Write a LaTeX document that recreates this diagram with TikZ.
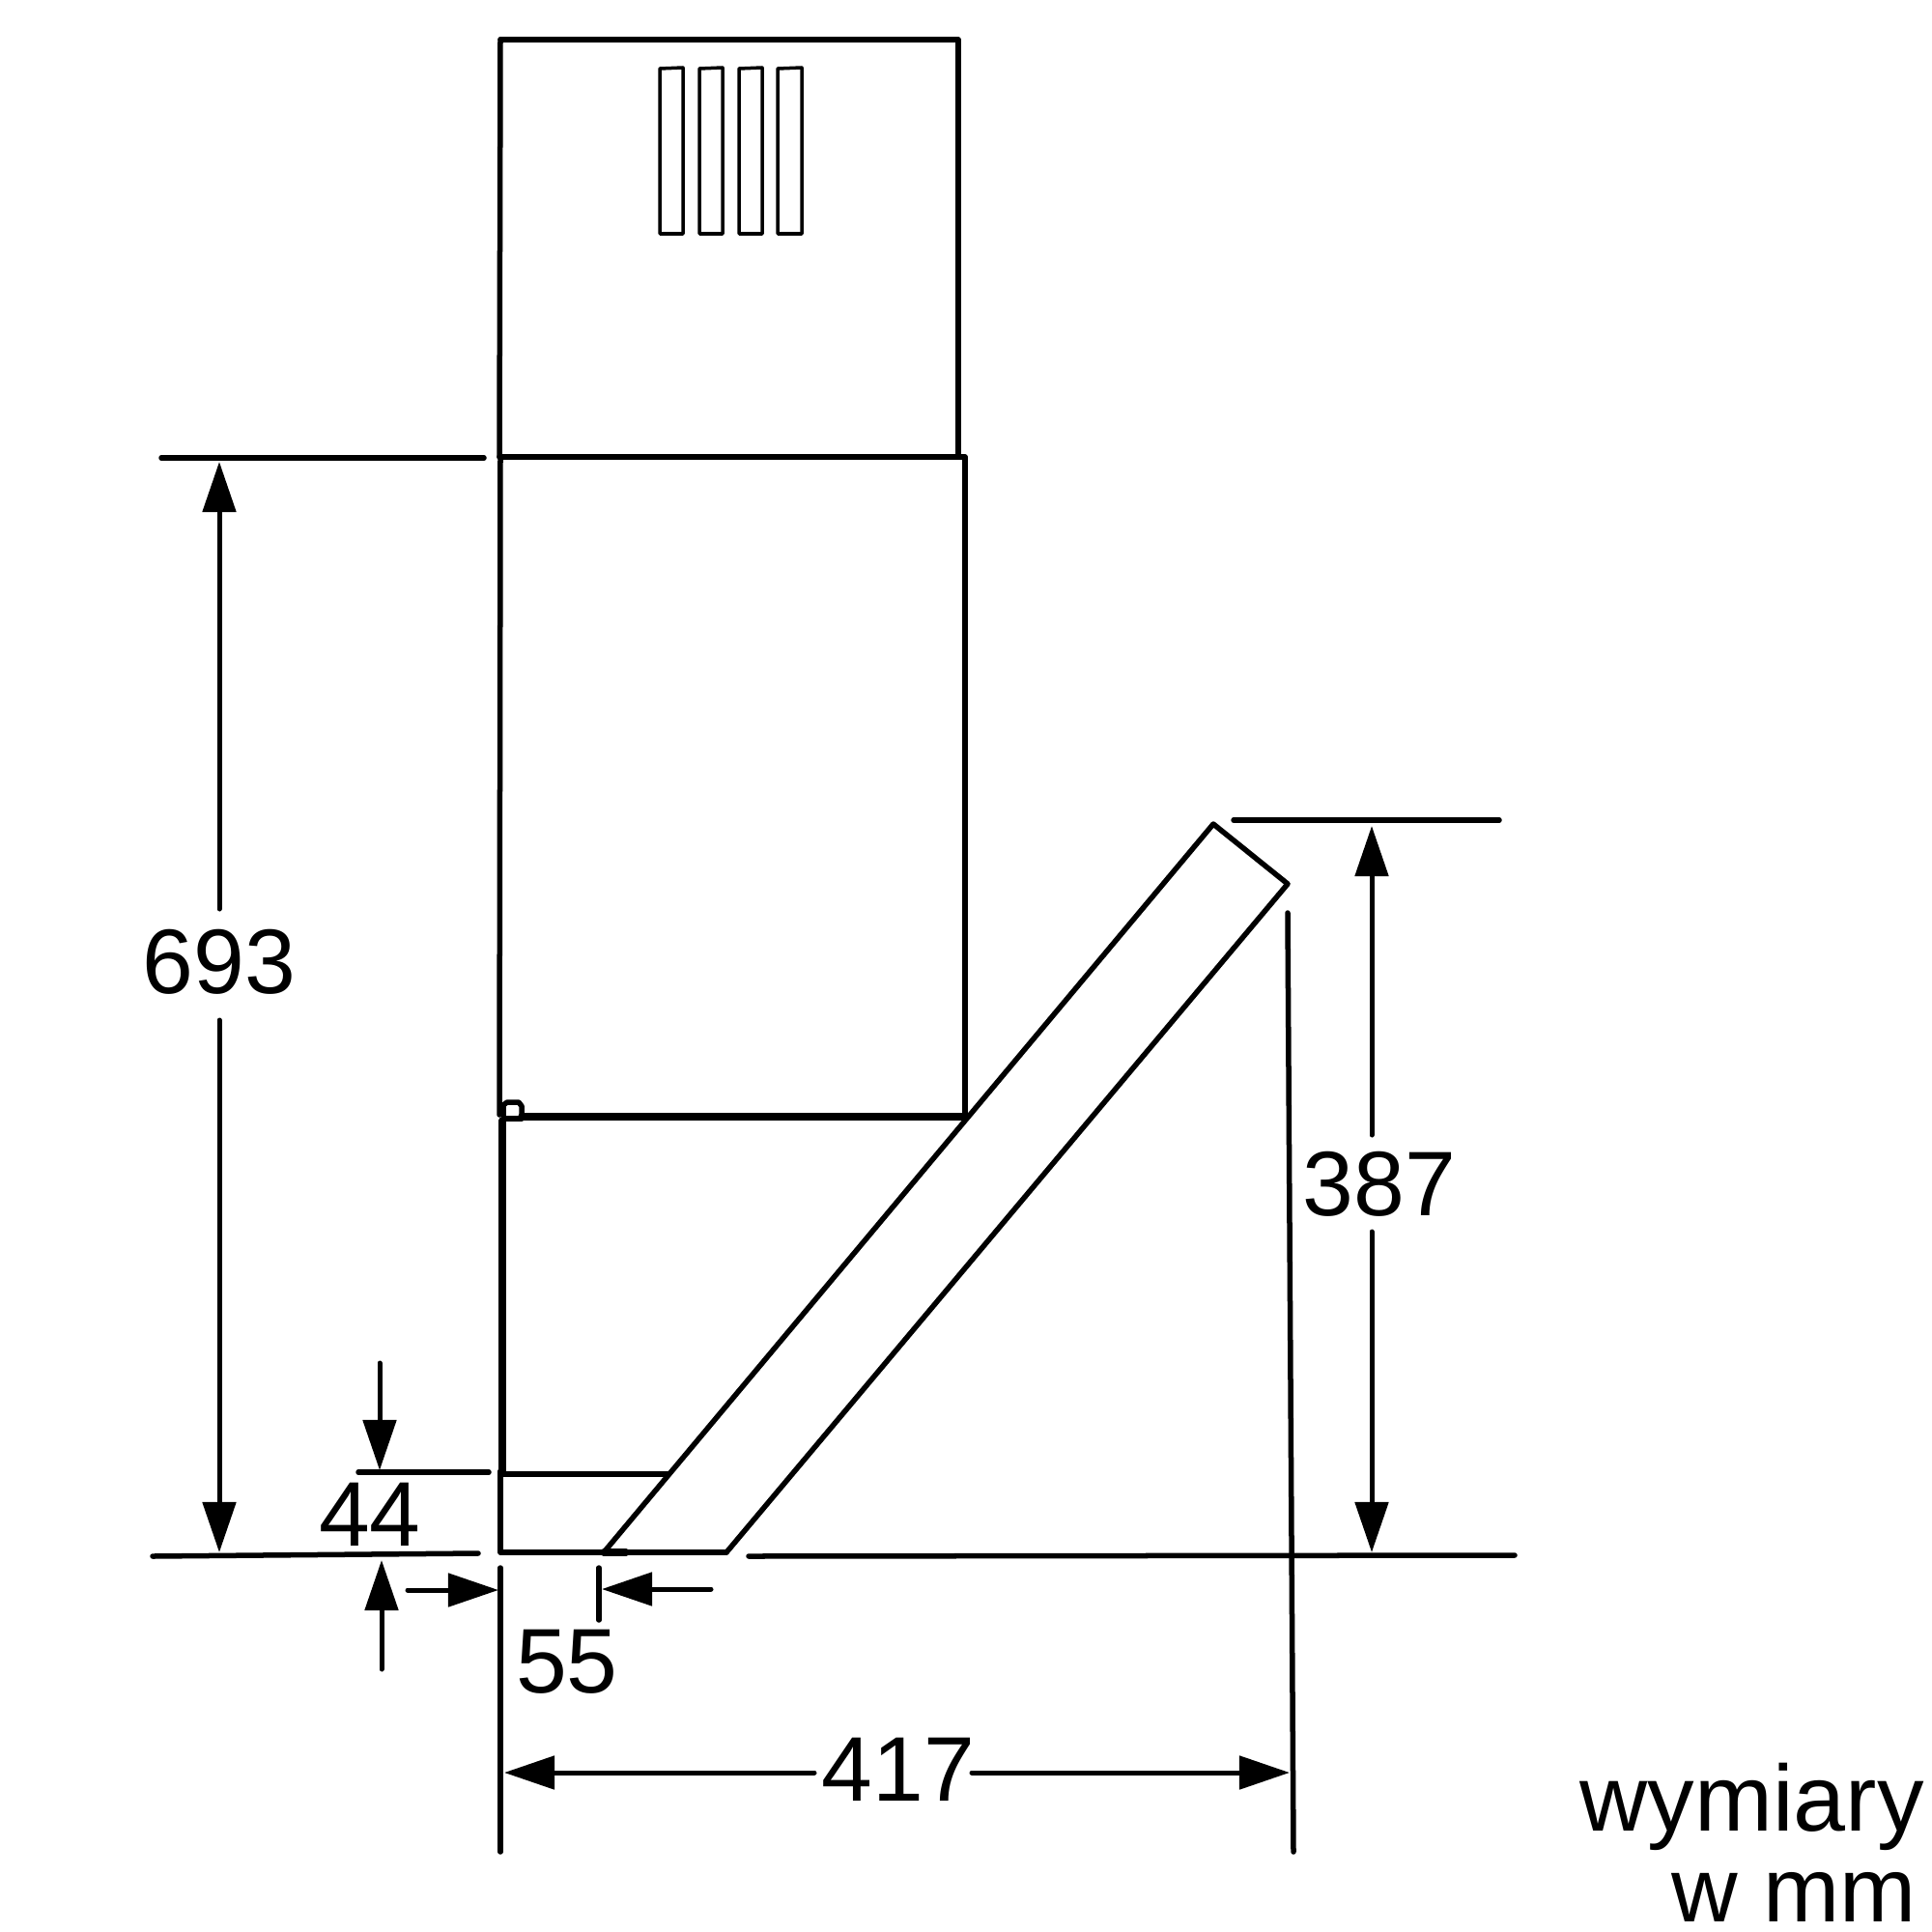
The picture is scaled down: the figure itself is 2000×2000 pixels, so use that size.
\documentclass[tikz,border=0pt]{standalone}
\usepackage{fontspec}
\setmainfont{Liberation Sans}
\usetikzlibrary{arrows.meta}
\tikzset{
  edge/.style={line width=0.055cm,line cap=round,line join=round},
  heavy/.style={line width=0.075cm,line cap=round,line join=round},
  dimline/.style={line width=0.05cm,line cap=round,-{Triangle[length=0.52cm,width=0.34cm]}},
  label/.style={inner sep=0pt,font=\fontsize{27}{27}\selectfont},
  biglabel/.style={inner sep=0pt,font=\fontsize{27.6}{27.6}\selectfont}
}
\begin{document}
\begin{tikzpicture}[x=0.01cm,y=-0.01cm]
\useasboundingbox (0,0) rectangle (2000,2000);
% upper chimney
\draw[edge] (518,41) -- (992,41) -- (992,473);
\draw[edge] (518,41) -- (517,473);
\draw[edge] (517,473) -- (999,473) -- (999,1154);
\draw[edge] (518,473) -- (517,1154);
% vents
\draw[line width=0.035cm,line join=round] (683,71) -- (707,70) -- (707,242) -- (683,242) -- cycle;
\draw[line width=0.035cm,line join=round] (724,71) -- (748,70) -- (748,242) -- (724,242) -- cycle;
\draw[line width=0.035cm,line join=round] (765,71) -- (789,70) -- (789,242) -- (765,242) -- cycle;
\draw[line width=0.035cm,line join=round] (805,71) -- (830,70) -- (830,242) -- (805,242) -- cycle;
% joint
\draw[edge] (521,1155) -- (521,1144) -- (525,1141) -- (537,1141) -- (540,1145) -- (540,1155);
\draw[edge] (521,1158) -- (540,1158);
\draw[heavy] (540,1156) -- (999,1156);
\draw[heavy] (520,1160) -- (520,1523);
% lower part
\draw[edge] (518,1523) -- (518,1607) -- (752,1607);
\draw[edge] (520,1526) -- (692,1526);
\draw[edge] (625,1607) -- (1256,853) -- (1333,915) -- (752,1607);
\draw[heavy] (625,1607) -- (648,1607);
% extension lines
\draw[edge] (167,474) -- (501,474);
\draw[edge] (158,1611) -- (495,1608);
\draw[edge] (371,1524) -- (506,1524);
\draw[edge] (518,1623) -- (518,1917);
\draw[edge] (620,1623) -- (620,1677);
\draw[edge] (775,1611) -- (1568,1610);
\draw[edge] (1333,945) -- (1339,1917);
\draw[edge] (1277,849) -- (1552,849);
% labels
\node[label] (t693) at (227,996) {693};
\node[label] (t44) at (383,1568) {44};
\node[label] (t55) at (587,1720) {55};
\node[label] (t417) at (930,1832) {417};
\node[label] (t387) at (1428,1226) {387};
\node[biglabel,anchor=base west] (twym) at (1635,1895) {wymiary};
\node[label,anchor=base west] (tmm) at (1730,1989) {w mm};
% dimension arrows
\coordinate (a1) at (227,941); \coordinate (a2) at (227,478);
\coordinate (b1) at (227,1056); \coordinate (b2) at (227,1607);
\draw[dimline] (a1) -- (a2);
\draw[dimline] (b1) -- (b2);
\coordinate (c1) at (393,1411); \coordinate (c2) at (393,1522);
\coordinate (d1) at (395,1728); \coordinate (d2) at (395,1615);
\draw[dimline] (c1) -- (c2);
\draw[dimline] (d1) -- (d2);
\coordinate (e1) at (422,1646); \coordinate (e2) at (516,1646);
\coordinate (f1) at (736,1645); \coordinate (f2) at (623,1645);
\draw[dimline] (e1) -- (e2);
\draw[dimline] (f1) -- (f2);
\coordinate (g1) at (843,1835); \coordinate (g2) at (522,1835);
\coordinate (h1) at (1006,1835); \coordinate (h2) at (1335,1835);
\draw[dimline] (g1) -- (g2);
\draw[dimline] (h1) -- (h2);
\coordinate (i1) at (1420,1175); \coordinate (i2) at (1420,855);
\coordinate (j1) at (1420,1275); \coordinate (j2) at (1420,1607);
\draw[dimline] (i1) -- (i2);
\draw[dimline] (j1) -- (j2);
\end{tikzpicture}
\end{document}
